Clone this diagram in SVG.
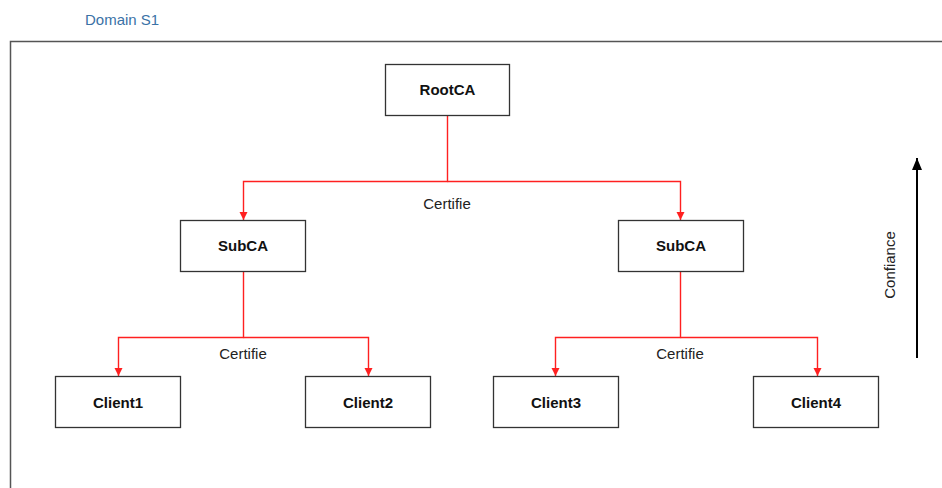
<svg xmlns="http://www.w3.org/2000/svg" width="942" height="488" viewBox="0 0 942 488">
  <defs>
    <marker id="redArrow" markerWidth="10" markerHeight="10" refX="9" refY="5" orient="auto" markerUnits="userSpaceOnUse" viewBox="0 0 10 10">
      <path d="M1,1 L9,5 L1,9 Z" fill="#ff2020"/>
    </marker>
    <marker id="blackArrow" markerWidth="14" markerHeight="14" refX="13" refY="7" orient="auto" markerUnits="userSpaceOnUse" viewBox="0 0 14 14">
      <path d="M1,2 L13,7 L1,12 Z" fill="#000"/>
    </marker>
  </defs>
  <style>
    .frame { fill: none; stroke: #555; stroke-width: 1.5; }
    .node rect { fill: #fff; stroke: #333; stroke-width: 1.3; }
    .node text { font-family: "Liberation Sans", Arial, sans-serif; font-size: 15px; font-weight: bold; fill: #111; text-anchor: middle; }
    .link { fill: none; stroke: #ff2020; stroke-width: 1.4; }
    .label { font-family: "Liberation Sans", Arial, sans-serif; font-size: 15px; fill: #222; text-anchor: middle; }
  </style>

  <rect width="942" height="488" fill="#fff"/>

  <!-- domain frame and title -->
  <text x="85" y="25" font-family="Liberation Sans, Arial, sans-serif" font-size="15" fill="#3a72a6">Domain S1</text>
  <path class="frame" d="M10.5,500 V41.5 H960"/>

  <!-- certification links -->
  <g id="connectors">
    <path class="link" d="M447.5,116 V181.5 H243.5 V220" marker-end="url(#redArrow)"/>
    <path class="link" d="M447.5,181.5 H680.5 V220" marker-end="url(#redArrow)"/>
    <path class="link" d="M243.5,272 V337.5 H118.5 V376" marker-end="url(#redArrow)"/>
    <path class="link" d="M243.5,337.5 H368.5 V376" marker-end="url(#redArrow)"/>
    <path class="link" d="M680.5,272 V337.5 H555.5 V376" marker-end="url(#redArrow)"/>
    <path class="link" d="M680.5,337.5 H817.5 V376" marker-end="url(#redArrow)"/>
    <text class="label" x="447" y="209">Certifie</text>
    <text class="label" x="243" y="359">Certifie</text>
    <text class="label" x="680" y="359">Certifie</text>
  </g>

  <!-- trust axis -->
  <g id="trust">
    <line x1="917" y1="358" x2="917" y2="158" stroke="#000" stroke-width="2" marker-end="url(#blackArrow)"/>
    <text class="label" transform="translate(895,265) rotate(-90)">Confiance</text>
  </g>

  <!-- nodes -->
  <g id="rootca" class="node">
    <rect x="385.5" y="64.5" width="124" height="51"/>
    <text x="447.5" y="95">RootCA</text>
  </g>
  <g id="subca-left" class="node">
    <rect x="180.5" y="220.5" width="125" height="51"/>
    <text x="243" y="251">SubCA</text>
  </g>
  <g id="subca-right" class="node">
    <rect x="618.5" y="220.5" width="125" height="51"/>
    <text x="681" y="251">SubCA</text>
  </g>
  <g id="client1" class="node">
    <rect x="55.5" y="376.5" width="125" height="51"/>
    <text x="118" y="408">Client1</text>
  </g>
  <g id="client2" class="node">
    <rect x="305.5" y="376.5" width="125" height="51"/>
    <text x="368" y="408">Client2</text>
  </g>
  <g id="client3" class="node">
    <rect x="493.5" y="376.5" width="125" height="51"/>
    <text x="556" y="408">Client3</text>
  </g>
  <g id="client4" class="node">
    <rect x="753.5" y="376.5" width="125" height="51"/>
    <text x="816" y="408">Client4</text>
  </g>
</svg>
